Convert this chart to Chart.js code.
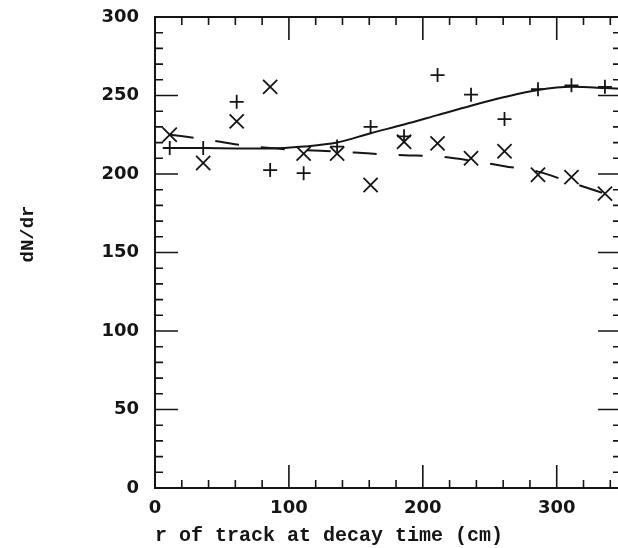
<!DOCTYPE html>
<html>
<head>
<meta charset="utf-8">
<script src="https://cdn.jsdelivr.net/npm/chart.js@4"></script>
<style>
    html, body { margin: 0; padding: 0; overflow: hidden; background: #fff; }
    #chart { position: absolute; left: 0; top: 0; }
</style>
</head>
<body>
<canvas id="chart" width="624" height="548"></canvas>
<script>
// bin centres (cm) and the two measured samples
const rBins = [11, 36, 61, 86, 111, 136, 161, 186, 211, 236, 261, 286, 311, 336];
const plusCounts = [216.5, 216.5, 246, 202.5, 200.5, 217.5, 230, 224, 263, 250.5, 235, 254, 256.5, 255.5];
const crossCounts = [225, 207, 233.5, 255.5, 213, 213, 193, 220.5, 219.5, 210, 214.5, 199.5, 198, 187.5];

// fitted curves
const solidR = [6, 36, 61, 86, 111, 136, 161, 186, 211, 236, 261, 286, 311, 336, 348];
const solidFit = [216.5, 216.5, 216.3, 216.3, 217.5, 220, 226, 231.5, 237.5, 243.5, 249, 253.5, 255.5, 254.8, 254.3];
const dashedFit = [225, 222.3, 218.8, 216.5, 215.2, 214.3, 213, 212, 211.2, 208.5, 205, 201.5, 194.5, 187.5];

// axes
const xMajorTicks = [0, 100, 200, 300];
const yMajorTicks = [0, 50, 100, 150, 200, 250, 300];
const xMinorStep = 20;
const yMinorStep = 10;
const xMax = 348;
const yMax = 300;

const ink = '#151515';

const toPoints = (xs, ys) => xs.map((v, i) => ({ x: v, y: ys[i] }));

// box around the plot with inward ticks on all four sides
const frameTicks = {
    id: 'frameTicks',
    afterDatasetsDraw(chart) {
        const { ctx, chartArea: a, scales: { x, y } } = chart;
        ctx.save();
        ctx.strokeStyle = ink;
        ctx.lineWidth = 2;
        ctx.strokeRect(a.left, a.top, a.right - a.left, a.bottom - a.top);
        ctx.lineWidth = 1.6;
        ctx.beginPath();
        for (let v = 0; v <= xMax; v += xMinorStep) {
            const px = x.getPixelForValue(v);
            const len = xMajorTicks.includes(v) ? 23 : 8;
            ctx.moveTo(px, a.bottom); ctx.lineTo(px, a.bottom - len);
            ctx.moveTo(px, a.top); ctx.lineTo(px, a.top + len);
        }
        for (let v = 0; v <= yMax; v += yMinorStep) {
            const py = y.getPixelForValue(v);
            const len = yMajorTicks.includes(v) ? 23 : 8;
            ctx.moveTo(a.left, py); ctx.lineTo(a.left + len, py);
            ctx.moveTo(a.right, py); ctx.lineTo(a.right - len, py);
        }
        ctx.stroke();

        // y axis title
        ctx.fillStyle = ink;
        ctx.font = 'bold 19px "Liberation Mono"';
        ctx.textAlign = 'center';
        ctx.textBaseline = 'middle';
        ctx.translate(28, 234);
        ctx.rotate(-Math.PI / 2);
        ctx.fillText('dN/dr', 0, 0);
        ctx.restore();
    }
};

// keep the label overflow from shrinking the plot box
const noLabelPadding = scale => {
    scale.paddingTop = 0;
    scale.paddingBottom = 0;
    scale.paddingLeft = 0;
    scale.paddingRight = 0;
};

new Chart(document.getElementById('chart'), {
    type: 'scatter',
    data: {
        datasets: [
            {
                data: toPoints(solidR, solidFit),
                showLine: true,
                borderColor: ink,
                borderWidth: 2,
                pointRadius: 0,
                cubicInterpolationMode: 'monotone'
            },
            {
                data: toPoints(rBins, dashedFit),
                showLine: true,
                borderColor: ink,
                borderWidth: 2,
                borderDash: [24, 22],
                pointRadius: 0,
                cubicInterpolationMode: 'monotone'
            },
            {
                data: toPoints(rBins, plusCounts),
                pointStyle: 'cross',
                pointRadius: 7,
                borderColor: ink,
                borderWidth: 1.8
            },
            {
                data: toPoints(rBins, crossCounts),
                pointStyle: 'crossRot',
                pointRadius: 10,
                borderColor: ink,
                borderWidth: 1.8
            }
        ]
    },
    options: {
        responsive: false,
        animation: false,
        devicePixelRatio: 1,
        layout: {
            autoPadding: false,
            padding: { top: 17, right: 3, left: 0, bottom: 0 }
        },
        plugins: {
            legend: { display: false },
            tooltip: { enabled: false }
        },
        scales: {
            x: {
                type: 'linear',
                min: 0,
                max: xMax,
                grid: { display: false, drawTicks: false, tickLength: 0 },
                border: { display: false },
                afterBuildTicks: scale => {
                    scale.ticks = xMajorTicks.map(v => ({ value: v }));
                },
                afterFit: scale => { scale.height = 60; noLabelPadding(scale); },
                ticks: {
                    color: ink,
                    padding: 10,
                    font: { family: 'DejaVu Sans', size: 18, weight: 'bold' }
                },
                title: {
                    display: true,
                    text: 'r of track at decay time (cm)',
                    align: 'start',
                    color: ink,
                    padding: { top: 0, bottom: 0 },
                    font: { family: 'Liberation Mono', size: 20, weight: 'bold' }
                }
            },
            y: {
                type: 'linear',
                min: 0,
                max: yMax,
                grid: { display: false, drawTicks: false, tickLength: 0 },
                border: { display: false },
                afterBuildTicks: scale => {
                    scale.ticks = yMajorTicks.map(v => ({ value: v }));
                },
                afterFit: scale => { scale.width = 155; noLabelPadding(scale); },
                ticks: {
                    color: ink,
                    padding: 16,
                    font: { family: 'DejaVu Sans', size: 18, weight: 'bold' }
                }
            }
        }
    },
    plugins: [frameTicks]
});
</script>
</body>
</html>
